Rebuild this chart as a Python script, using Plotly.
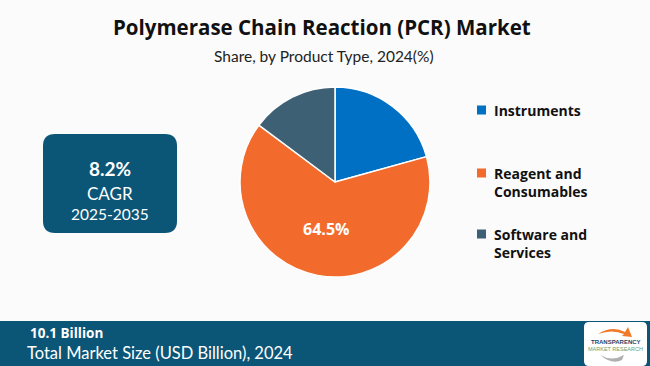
import plotly.graph_objects as go

categories = ["Instruments", "Reagent and<br>Consumables", "Software and<br>Services"]
shares = [20.7, 64.5, 14.8]
colors = ["#0070C4", "#F26B2C", "#3E6075"]
shown_labels = ["", "64.5%", ""]

title = "Polymerase Chain Reaction (PCR) Market"
subtitle = "Share, by Product Type, 2024(%)"
cagr_value = "8.2%"
cagr_label = "CAGR"
cagr_period = "2025-2035"
market_value = "10.1 Billion"
market_label = "Total Market Size (USD Billion), 2024"

W, H = 650, 366
DARK = "#0B5577"

fig = go.Figure()
cx, cy, r = 335, 182, 95
fig.add_trace(go.Pie(
    labels=categories, values=shares, sort=False, direction="clockwise", rotation=0,
    marker=dict(colors=colors, line=dict(color="white", width=1.5)),
    text=shown_labels, textinfo="text", textposition="inside",
    insidetextorientation="horizontal",
    textfont=dict(family="Open Sans", size=16, color="white", weight="bold"),
    domain=dict(x=[(cx - r) / W, (cx + r) / W], y=[(H - cy - r) / H, (H - cy + r) / H]),
    showlegend=False, hoverinfo="label+percent",
))

def px(x):
    return x / W

def py(y):
    return 1 - y / H

shapes = []
annotations = []

def note(text, x, y, size, family="Lato", color="white", xanchor="center", yanchor="middle", align="center"):
    annotations.append(dict(text=text, x=px(x), y=py(y), xref="paper", yref="paper",
                            xanchor=xanchor, yanchor=yanchor, align=align, showarrow=False,
                            font=dict(family=family, size=size, color=color)))

def rounded(x0, x1, y0, y1, rr, color):
    path = (f"M {px(x0+rr)} {py(y0)} L {px(x1-rr)} {py(y0)} Q {px(x1)} {py(y0)} {px(x1)} {py(y0+rr)} "
            f"L {px(x1)} {py(y1-rr)} Q {px(x1)} {py(y1)} {px(x1-rr)} {py(y1)} "
            f"L {px(x0+rr)} {py(y1)} Q {px(x0)} {py(y1)} {px(x0)} {py(y1-rr)} "
            f"L {px(x0)} {py(y0+rr)} Q {px(x0)} {py(y0)} {px(x0+rr)} {py(y0)} Z")
    shapes.append(dict(type="path", path=path, xref="paper", yref="paper", fillcolor=color, line=dict(width=0)))

# title
note("<b>" + title + "</b>", 322, 27, 20.5, family="Open Sans", color="#111111")
note(subtitle, 324, 56, 15.5, family="Lato", color="#222222")

# CAGR box
rounded(43, 177, 134, 233, 12, DARK)
note("<b>" + cagr_value + "</b>", 110, 169, 19)
note(cagr_label, 110, 193, 17)
note(cagr_period, 110, 214, 15.5)

# legend
legend_y = [110, 173, 234]
for c, lab, ly in zip(colors, categories, legend_y):
    shapes.append(dict(type="rect", xref="paper", yref="paper", x0=px(477), x1=px(486),
                       y0=py(ly - 4.5), y1=py(ly + 4.5), fillcolor=c, line=dict(width=0)))
    note("<b>" + lab + "</b>", 492, ly - 11, 14, family="Open Sans", color="#111111",
         xanchor="left", yanchor="top", align="left")

# bottom bar
shapes.append(dict(type="rect", xref="paper", yref="paper", x0=0, x1=1, y0=0, y1=py(321),
                   fillcolor=DARK, line=dict(width=0)))
note("<b>" + market_value + "</b>", 28, 333, 13.5, family="Open Sans", xanchor="left")
note(market_label, 25, 353, 16.5, xanchor="left")

# logo
rounded(584, 647, 322, 366, 5, "white")
shapes.append(dict(type="path", xref="paper", yref="paper",
                   path=f"M {px(598)} {py(334)} Q {px(612)} {py(325)} {px(625)} {py(332)} L {px(628)} {py(327)} L {px(632)} {py(337)} L {px(622)} {py(336)} L {px(624)} {py(334)} Q {px(612)} {py(329)} {px(598)} {py(334)} Z",
                   fillcolor="#F07A2A", line=dict(width=0)))
shapes.append(dict(type="path", xref="paper", yref="paper",
                   path=f"M {px(600)} {py(355)} Q {px(612)} {py(362)} {px(624)} {py(355)} L {px(622)} {py(360)} Q {px(612)} {py(365)} {px(600)} {py(355)} Z",
                   fillcolor="#B0B0B0", line=dict(width=0)))
note("<b>TRANSPARENCY</b>", 615.5, 342, 6, family="Liberation Sans", color="#1F3F66")
note("MARKET RESEARCH", 615.5, 349, 5.5, family="Liberation Sans", color="#6AA06A")

fig.update_layout(
    width=W, height=H, margin=dict(l=0, r=0, t=0, b=0),
    paper_bgcolor="#FBFBFB", plot_bgcolor="#FBFBFB",
    shapes=shapes, annotations=annotations,
)

fig.write_html("out.html", config={"displayModeBar": False},
               post_script="document.body.style.margin='0';document.body.style.overflow='hidden';")
